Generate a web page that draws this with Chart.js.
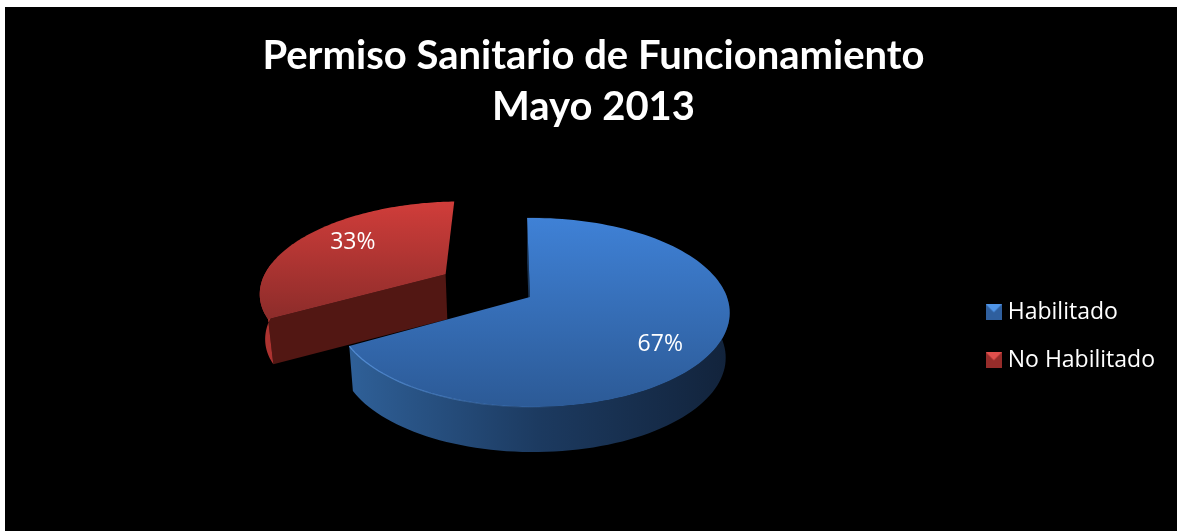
<!DOCTYPE html>
<html>
<head>
<meta charset="utf-8">
<script src="https://cdn.jsdelivr.net/npm/chart.js@4"></script>
<style>
  html, body { margin: 0; background: #fff; overflow: hidden; }
  #torta { position: absolute; left: 5px; top: 7px; background: #000; }
</style>
</head>
<body>
<canvas id="torta" width="1172" height="524"></canvas>
<script>
// datos del grafico
const categorias = ['Habilitado', 'No Habilitado'];
const valores = [67, 33];
const titulo = ['Permiso Sanitario de Funcionamiento', 'Mayo 2013'];
const etiquetas = ['67%', '33%'];

// colores de cada porcion
const coloresBase = ['#3a72bd', '#b93532'];
const coloresTapa = [['#3f81d6', '#2c5a96'], ['#d03d3a', '#8c2c2a']];
const coloresPared = [['#2f6098', '#1c3a60', '#12233b'], ['#b03431', '#8a2826', '#6d1e1c']];
const coloresCorte = ['#1a3556', '#521713'];
const radioEtiqueta = [0.72, 0.67];
const ajusteEtiqueta = [[0, 12], [4, -6]];

// proyeccion de la torta sobre un plano inclinado
const centro = { x: 525, y: 290 };
const escalaX = 194, escalaY = 92, fugaV = -0.164, fugaU = -0.015;
const alto3d = 45, encoge = 0.98;

function proyectar(u, v, abajo) {
  const w = 1 + fugaV * v + fugaU * u;
  let x = escalaX * u / w, y = escalaY * v / w;
  if (abajo) { x *= encoge; y += alto3d; }
  return { x: centro.x + x, y: centro.y + y };
}

function marcador(color1, color2) {
  const c = document.createElement('canvas');
  c.width = 16; c.height = 16;
  const g = c.getContext('2d');
  g.fillStyle = color2; g.fillRect(0, 0, 16, 16);
  g.fillStyle = color1;
  g.beginPath(); g.moveTo(0, 0); g.lineTo(16, 0); g.lineTo(8, 8); g.closePath(); g.fill();
  return c;
}
const marcadores = [marcador('#4f94e6', '#2f5f9e'), marcador('#e04f4c', '#962c2a')];

const torta3d = {
  id: 'torta3d',
  beforeDatasetDraw(chart) {
    const ctx = chart.ctx;
    const arcos = chart.getDatasetMeta(0).data;
    // primero la porcion de atras
    [1, 0].forEach(i => {
      const arco = arcos[i];
      const a0 = arco.startAngle, a1 = arco.endAngle, medio = (a0 + a1) / 2;
      const sep = arco.options.offset / arco.outerRadius;
      const ox = Math.cos(medio) * sep, oy = Math.sin(medio) * sep;
      const borde = [], frente = [];
      for (let k = 0; k <= 120; k++) {
        const a = a0 + (a1 - a0) * k / 120;
        borde.push([ox + Math.cos(a), oy + Math.sin(a)]);
        // la pared solo se ve en la parte de adelante
        if (Math.sin(a) > -0.15) frente.push([ox + Math.cos(a), oy + Math.sin(a)]);
      }
      const poli = (puntos) => {
        ctx.beginPath();
        puntos.forEach((p, n) => n ? ctx.lineTo(p.x, p.y) : ctx.moveTo(p.x, p.y));
        ctx.closePath();
      };
      const arriba = borde.map(p => proyectar(p[0], p[1], false));
      const debajo = borde.map(p => proyectar(p[0], p[1], true));
      const paredArriba = frente.map(p => proyectar(p[0], p[1], false));
      const paredAbajo = frente.map(p => proyectar(p[0], p[1], true));
      const punta = proyectar(ox, oy, false), puntaAbajo = proyectar(ox, oy, true);
      const xs = arriba.map(p => p.x), ys = arriba.concat([punta]).map(p => p.y);

      // cara del corte
      ctx.fillStyle = coloresCorte[i];
      poli([punta, arriba[0], debajo[0], puntaAbajo]); ctx.fill();

      // pared exterior
      const gp = ctx.createLinearGradient(Math.min(...xs), 0, Math.max(...xs), 0);
      coloresPared[i].forEach((c, n) => gp.addColorStop(n / 2, c));
      ctx.fillStyle = gp;
      poli(paredArriba.concat(paredAbajo.reverse())); ctx.fill();

      // tapa
      const gt = ctx.createLinearGradient(0, Math.min(...ys), 0, Math.max(...ys));
      gt.addColorStop(0, coloresTapa[i][0]);
      gt.addColorStop(1, coloresTapa[i][1]);
      ctx.fillStyle = gt;
      poli([punta].concat(arriba)); ctx.fill();

      // brillo del borde de la porcion azul
      if (i === 0) {
        const gb = ctx.createLinearGradient(Math.min(...xs), 0, centro.x + 40, 0);
        gb.addColorStop(0, 'rgba(90,150,225,0.9)');
        gb.addColorStop(1, 'rgba(90,150,225,0)');
        ctx.strokeStyle = gb;
        ctx.lineWidth = 1.2;
        ctx.beginPath();
        arriba.forEach((p, n) => n ? ctx.lineTo(p.x, p.y) : ctx.moveTo(p.x, p.y));
        ctx.stroke();
      }

      // etiqueta
      const r = radioEtiqueta[i];
      const e = proyectar(ox + Math.cos(medio) * r, oy + Math.sin(medio) * r, false);
      ctx.save();
      ctx.fillStyle = '#fff';
      ctx.font = '23px "Open Sans"';
      ctx.textAlign = 'center';
      ctx.textBaseline = 'middle';
      ctx.fillText(etiquetas[i], e.x + ajusteEtiqueta[i][0], e.y + ajusteEtiqueta[i][1]);
      ctx.restore();
    });
    return false;
  }
};

new Chart(document.getElementById('torta').getContext('2d'), {
  type: 'pie',
  data: {
    labels: categorias,
    datasets: [{
      data: valores,
      backgroundColor: coloresBase,
      borderWidth: 0,
      offset: [0, 81]
    }]
  },
  options: {
    responsive: false,
    animation: false,
    rotation: -1,
    layout: { padding: { left: 17, right: 12, bottom: 0 } },
    plugins: {
      tooltip: { enabled: false },
      title: {
        display: true,
        text: titulo,
        color: '#fff',
        font: { family: 'Lato', size: 40, weight: 'bold', lineHeight: 1.28 },
        padding: { top: 23, bottom: 9 }
      },
      legend: {
        position: 'right',
        fullSize: false,
        labels: {
          color: '#fff',
          font: { family: 'Open Sans', size: 23 },
          usePointStyle: true,
          pointStyleWidth: 5,
          padding: 25,
          generateLabels(chart) {
            const base = Chart.overrides.pie.plugins.legend.labels.generateLabels(chart);
            base.forEach((item, i) => { item.pointStyle = marcadores[i]; });
            return base;
          }
        }
      }
    }
  },
  plugins: [torta3d]
});
</script>
</body>
</html>
